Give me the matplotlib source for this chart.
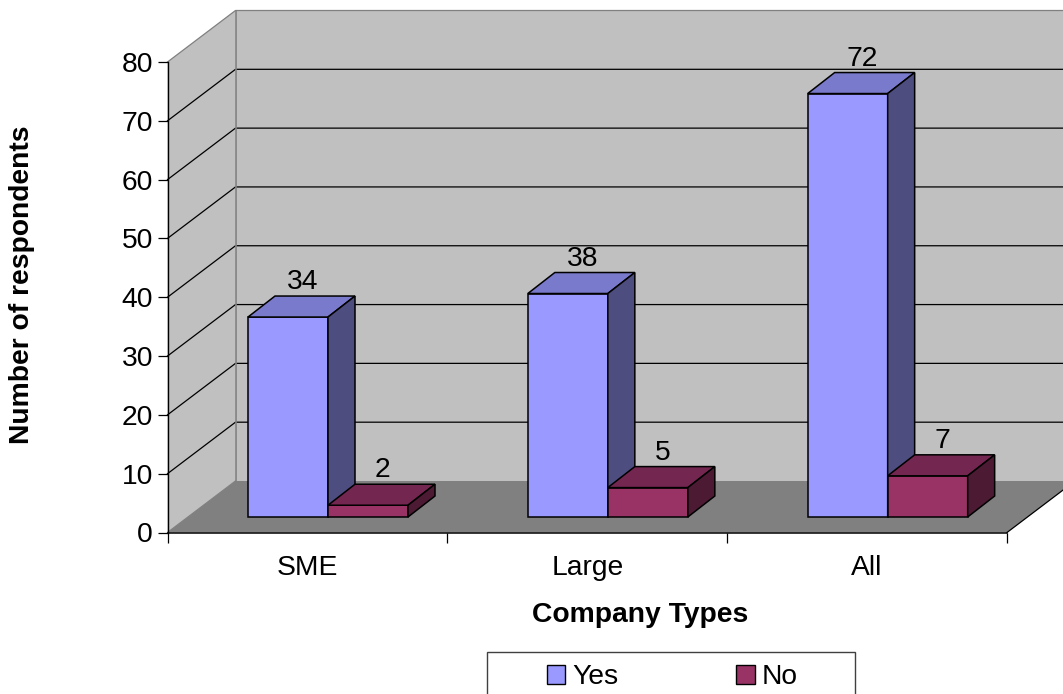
import matplotlib
matplotlib.use("Agg")
import matplotlib.pyplot as plt
from matplotlib.patches import Polygon, Patch, Rectangle

plt.rcParams['font.family'] = ['Liberation Sans', 'DejaVu Sans']

categories = ["SME", "Large", "All"]
yes_values = [34, 38, 72]
no_values = [2, 5, 7]
y_ticks = [0, 10, 20, 30, 40, 50, 60, 70, 80]
series_names = ["Yes", "No"]

W, H = 1063, 694
FS = 20.3
fig = plt.figure(figsize=(W/100, H/100), dpi=100, facecolor="white")
# plot front plane in pixels
L, R, B, T = 167.5, 1007, 532.5, 62
ax = fig.add_axes([L/W, 1-B/H, (R-L)/W, (B-T)/H])
ax.set_xlim(0, 3)
ax.set_ylim(0, 80)
ax.patch.set_visible(False)
for s in ax.spines.values():
    s.set_visible(False)

ux = (R-L)/3        # px per category
uy = (B-T)/80       # px per value
DX, DY = 68/ux, 51.5/uy      # wall depth
BDX, BDY = 27/ux, 21/uy      # bar depth
OY = 15.5/uy                 # bar front-plane offset
BW = 80/ux
GAP0 = 80.5/ux
GREY = "#808080"

def poly(pts, fc, ec="black", lw=1.1, z=2):
    p = Polygon(pts, closed=True, facecolor=fc, edgecolor=ec, linewidth=lw, zorder=z,
                clip_on=False, joinstyle="miter")
    ax.add_patch(p)

xmax_wall = (1075-L)/ux
# back wall, side wall, floor
poly([(DX, DY), (xmax_wall, DY), (xmax_wall, 80+DY), (DX, 80+DY)], "#c0c0c0", ec="none", z=0)
poly([(0, 0), (DX, DY), (DX, 80+DY), (0, 80)], "#c0c0c0", ec="none", z=0)
poly([(0, 0), (DX, DY), (xmax_wall, DY), (3, 0)], GREY, ec="none", z=1)

# gridlines
for v in y_ticks:
    c = GREY if v in (y_ticks[0], y_ticks[-1]) else "black"
    if v == y_ticks[0]:
        ax.plot([0, DX], [v, v+DY], color=c, lw=0.9, zorder=1.5, clip_on=False)
    else:
        ax.plot([0, DX, xmax_wall], [v, v+DY, v+DY], color=c, lw=0.9, zorder=1.5, clip_on=False)
ax.plot([DX, DX], [DY, 80+DY], color=GREY, lw=1.2, zorder=1.6, clip_on=False)
ax.plot([3, xmax_wall], [0, (xmax_wall-3)*DY/DX], color="black", lw=0.9, zorder=2, clip_on=False)
ax.plot([0, 3], [0, 0], color="black", lw=1.1, zorder=2, clip_on=False)
ax.plot([0, 0], [0, 80], color="black", lw=1.0, zorder=2, clip_on=False)

def bar3d(x0, h, front, top, side):
    y0 = OY
    y1 = OY + h
    x1 = x0 + BW
    poly([(x0, y0), (x1, y0), (x1, y1), (x0, y1)], front, z=4)
    poly([(x0, y1), (x1, y1), (x1+BDX, y1+BDY), (x0+BDX, y1+BDY)], top, z=4)
    poly([(x1, y0), (x1+BDX, y0+BDY), (x1+BDX, y1+BDY), (x1, y1)], side, z=4)
    ax.text(x0+BW/2+14.5/ux, y1+BDY+14/uy, str(h), ha="center", va="center",
            fontsize=FS, color="black", zorder=5)

for i in range(3):
    xa = i + GAP0
    bar3d(xa, yes_values[i], "#9999ff", "#7a7acc", "#4d4d80")
    bar3d(xa+BW, no_values[i], "#993366", "#732650", "#4d1a33")

ax.set_xticks([0, 1, 2, 3])
ax.set_xticklabels([])
ax.set_xticks([0.5, 1.5, 2.5], minor=True)
ax.set_xticklabels(categories, minor=True, fontsize=FS)
ax.tick_params(axis="x", which="major", length=7, width=0.9, direction="out")
ax.tick_params(axis="x", which="minor", length=0, pad=16.5)
ax.set_yticks(y_ticks)
ax.set_yticklabels([str(v) for v in y_ticks], fontsize=FS)
ax.tick_params(axis="y", length=7, width=0.9, pad=3.5)

fig.text(22/W, 1-285/H, "Number of respondents", rotation=90, ha="center", va="center",
         fontsize=FS, fontweight="bold")
fig.text(640.5/W, 1-615/H, "Company Types", ha="center", va="center", fontsize=FS, fontweight="bold")

# legend box runs off the lower edge of the figure
frame = Rectangle((486.5/W, -20/H), (855-486.5)/W, (694+20-652)/H, transform=fig.transFigure,
                  facecolor="white", edgecolor="#404040", linewidth=1.0)
fig.add_artist(frame)
handles = [Patch(facecolor="#9999ff", edgecolor="black", label=series_names[0]),
           Patch(facecolor="#993366", edgecolor="black", label=series_names[1])]
leg = fig.legend(handles=handles, ncol=2, loc="upper left",
                 bbox_to_anchor=(546.5/W, 1-664.5/H), fontsize=FS, frameon=False,
                 borderaxespad=0, borderpad=0, handlelength=0.65, handleheight=0.65,
                 handletextpad=0.25, columnspacing=4.2)

fig.savefig("out.png", dpi=100)
